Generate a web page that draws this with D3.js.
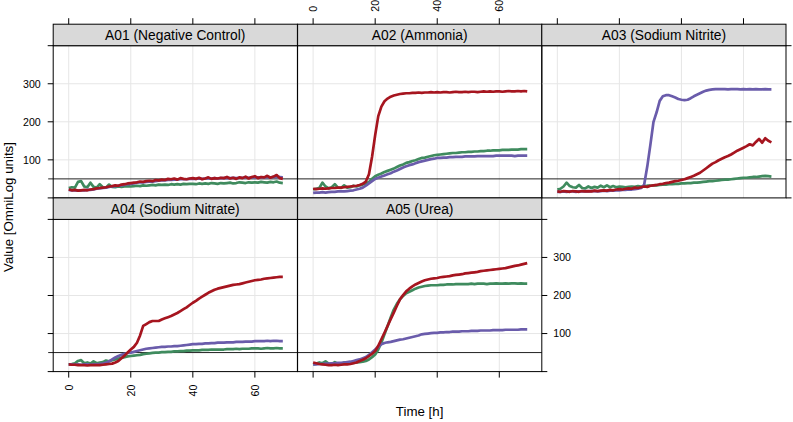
<!DOCTYPE html>
<html><head><meta charset="utf-8">
<script src="https://cdn.jsdelivr.net/npm/d3@7"></script>
<style>
html,body{margin:0;padding:0;background:#fff;}
svg{display:block;font-family:"Liberation Sans",Arial,Helvetica,sans-serif;}
</style></head>
<body><svg id="c" width="793" height="422"></svg>
<script>
// ---------- data ----------
const hours = [0,1,2,3,4,5,6,7,8,9,10,11,12,13,14,15,16,17,18,19,20,21,22,23,24,25,26,27,28,29,
  30,31,32,33,34,35,36,37,38,39,40,41,42,43,44,45,46,47,48,49,50,51,52,53,54,55,56,57,58,59,
  60,61,62,63,64,65,66,67,68,69];

const wells = ["A01 (Negative Control)","A02 (Ammonia)","A03 (Sodium Nitrite)","A04 (Sodium Nitrate)","A05 (Urea)"];
const seriesNames = ["green","purple","red"];
const seriesColors = ["#3f8b5e","#6a5cab","#a6151f"];

const greenValues = [
 [26,28,27,42,44,30,28,40,29,27, 36,28,27,35,29,28,30,29,30,31, 30,31,32,31,33,32,33,34,33,35, 34,35,34,36,35,36,35,37,36,37, 37,36,38,37,38,37,39,38,37,39, 38,39,40,38,39,41,40,39,41,40, 41,40,42,41,40,42,41,43,40,39],
 [22,24,26,40,30,25,28,36,27,26, 33,27,28,32,30,33,35,38,42,50, 57,61,64,68,71,74,77,81,85,88, 92,94,97,99,102,105,106,108,110,112, 113,114,115,116,117,118,118,119,120,120, 121,121,122,122,123,123,124,124,125,125, 125,126,126,126,127,127,127,128,128,128],
 [22,24,30,40,31,28,27,34,26,25, 30,26,29,27,32,28,33,28,31,28, 30,29,28,29,30,29,31,30,31,32, 32,33,33,34,35,35,36,36,37,37, 38,38,39,39,40,40,41,42,43,44, 44,45,46,47,48,48,49,50,51,52, 53,53,54,55,55,56,57,58,57,56],
 [19,20,22,28,30,22,24,21,27,22, 24,25,29,27,30,32,34,36,38,40, 41,42,43,44,46,47,48,49,50,50, 51,51,52,52,53,53,54,54,55,55, 56,56,56,57,57,57,58,58,58,58, 58,59,59,59,60,59,60,60,60,61, 61,61,60,61,62,61,61,62,61,61],
 [19,21,24,22,27,21,20,25,21,20, 24,21,22,23,24,25,26,28,32,38, 45,58,76,98,120,142,163,178,190,199, 206,210,214,218,221,223,225,226,227,227, 227,228,228,229,229,229,230,230,230,230, 230,231,230,231,231,231,230,231,231,232, 231,231,232,231,232,232,231,232,231,231]
];
const purpleValues = [
 [21,20,20,19,20,20,21,21,22,24, 25,26,27,29,30,31,32,33,35,36, 37,38,40,41,41,42,43,43,44,45, 46,46,47,47,48,48,49,49,49,50, 50,50,51,50,51,51,51,52,51,52, 52,52,52,53,52,53,53,53,53,54, 54,54,54,54,55,54,55,55,55,54],
 [13,14,14,15,14,15,16,16,17,17, 17,18,19,20,22,24,27,32,38,44, 50,53,56,59,62,65,69,72,76,80, 83,86,88,91,94,96,98,100,102,103, 105,105,106,106,107,107,108,108,108,109, 109,109,109,110,110,110,110,110,110,111, 111,111,111,111,111,110,111,111,111,111],
 [16,16,17,16,17,17,16,17,17,18, 17,18,18,17,18,19,18,19,19,20, 20,21,21,22,22,23,24,26,35,83, 140,200,225,255,267,270,270,267,264,260, 258,257,258,262,267,271,275,279,282,284, 285,286,286,286,286,285,286,286,286,285, 286,285,286,285,286,285,285,286,285,285],
 [19,19,18,19,18,19,19,18,19,19, 20,21,23,27,32,37,41,44,47,49, 50,52,54,56,58,60,61,62,63,64, 65,65,66,66,67,67,68,69,70,71, 72,72,73,73,74,74,75,75,76,76, 76,77,77,77,78,78,78,79,79,79, 80,80,80,80,81,80,81,81,80,80],
 [19,19,20,20,21,21,22,22,23,23, 24,25,26,28,30,32,35,38,44,51, 58,65,72,75,77,78,80,82,84,85, 87,89,91,93,95,98,99,100,101,102, 102,103,103,104,104,105,105,105,106,106, 106,107,107,107,108,108,108,108,109,109, 109,109,110,110,110,110,110,111,111,111]
];
const redValues = [
 [22,20,21,19,20,21,20,22,23,25, 26,27,28,30,31,33,32,35,36,38, 39,40,41,43,42,44,45,44,47,46, 48,47,50,49,51,48,52,50,49,51, 52,50,53,49,51,54,50,52,51,53, 52,55,51,53,50,54,52,56,51,55, 57,52,55,54,58,53,56,60,52,50],
 [24,23,24,25,24,25,26,26,27,27, 28,29,30,31,32,34,37,43,62,108, 165,215,240,254,261,266,269,271,273,274, 275,275,276,276,277,276,277,277,278,277, 278,277,278,278,277,278,279,278,278,279, 278,279,279,278,279,280,279,280,279,280, 280,279,280,281,280,280,281,280,281,280],
 [17,16,18,17,16,18,17,16,18,17, 18,17,19,18,19,20,19,21,20,22, 23,22,24,25,24,27,26,28,30,29, 32,33,34,36,37,39,40,42,44,45, 47,49,52,55,58,62,66,72,78,84, 90,94,99,103,107,110,114,119,124,128, 132,136,141,138,147,155,145,157,150,146],
 [19,18,18,17,17,17,16,17,17,17, 17,18,19,20,21,24,28,35,42,50, 58,65,76,95,120,125,130,133,133,133, 137,140,143,146,150,154,159,164,169,175, 181,186,192,197,202,207,211,215,218,220, 222,224,226,228,229,230,232,234,236,238, 240,241,242,244,245,246,247,248,249,249],
 [24,22,20,19,18,17,17,18,17,18, 19,19,20,22,24,28,31,35,41,47, 54,68,85,102,120,138,155,173,190,201, 211,218,224,229,233,237,240,242,244,245, 246,248,249,250,251,253,254,255,256,258, 259,260,261,262,264,265,266,267,268,269, 270,271,272,274,276,278,279,281,283,285]
];
const timeTicks = [0,20,40,60];
const valueTicks = [0,100,200,300,400];
const valueTickLabels = ["","100","200","300",""];
const referenceLevel = [50];
const xTitle = "Time [h]";
const yTitle = "Value [OmniLog units]";

// ---------- layout ----------
const svg = d3.select("#c");
const colX = [53.2, 297.6, 541.8];
const panelW = 244.2;
const rowTop = [24.2, 197.9];
const stripH = 21.5;
const panelH = 152.2;
const ncol = 3;

const x = d3.scaleLinear().domain([-5.0, 73.7]).range([0, panelW]);
const y = d3.scaleLinear().domain([0, 400]).range([panelH, 0]);

const tickFont = 10.6;
const axisCol = "#000";

wells.forEach((name, i) => {
  const col = i % ncol, row = Math.floor(i / ncol);
  const gx = colX[col], sy = rowTop[row], py = sy + stripH;
  const g = svg.append("g").attr("transform", `translate(${gx},${py})`);

  // grid
  g.append("g").selectAll("line").data(timeTicks).join("line")
    .attr("x1", d => x(d)).attr("x2", d => x(d)).attr("y1", 0).attr("y2", panelH)
    .attr("stroke", "#e6e6e6").attr("stroke-width", 1);
  g.append("g").selectAll("line").data(valueTicks.slice(1, 4)).join("line")
    .attr("x1", 0).attr("x2", panelW).attr("y1", d => y(d)).attr("y2", d => y(d))
    .attr("stroke", "#e6e6e6").attr("stroke-width", 1);

  // reference line
  g.append("line").attr("x1", col === 0 ? -5 : 0).attr("x2", panelW)
    .attr("y1", y(referenceLevel[0])).attr("y2", y(referenceLevel[0]))
    .attr("stroke", "#222").attr("stroke-width", 1);

  // curves
  const clipId = "clip" + i;
  g.append("clipPath").attr("id", clipId).append("rect").attr("width", panelW).attr("height", panelH);
  const line = d3.line().x((d, k) => x(hours[k])).y(d => y(d));
  const sets = [greenValues[i], purpleValues[i], redValues[i]];
  sets.forEach((vals, s) => {
    g.append("path").datum(vals).attr("d", line)
      .attr("fill", "none").attr("stroke", seriesColors[s]).attr("stroke-width", 2.7)
      .attr("stroke-linejoin", "round").attr("clip-path", `url(#${clipId})`);
  });

  // panel border
  g.append("rect").attr("width", panelW).attr("height", panelH)
    .attr("fill", "none").attr("stroke", axisCol).attr("stroke-width", 1);

  // strip
  const sg = svg.append("g").attr("transform", `translate(${gx},${sy})`);
  sg.append("rect").attr("width", panelW).attr("height", stripH)
    .attr("fill", "#d9d9d9").attr("stroke", axisCol).attr("stroke-width", 1);
  sg.append("text").attr("x", panelW / 2).attr("y", stripH / 2 + 5)
    .attr("text-anchor", "middle").attr("font-size", 13.8).attr("fill", "#000").text(name);

  // axes
  const isLastInRow = (col === ncol - 1) || (i === wells.length - 1);
  // top axis (row 0)
  if (row === 0) {
    const ax = svg.append("g").attr("transform", `translate(${gx},${sy})`);
    ax.selectAll("line").data(timeTicks).join("line")
      .attr("x1", d => x(d)).attr("x2", d => x(d)).attr("y1", 0).attr("y2", -6)
      .attr("stroke", axisCol);
    if (col === 1) {
      ax.selectAll("text").data(timeTicks).join("text")
        .attr("transform", d => `translate(${x(d) + 3.8},${-12.5}) rotate(-90)`)
        .attr("text-anchor", "start").attr("font-size", tickFont).attr("fill", "#000")
        .text(d => d);
    }
  }
  // bottom axis (row 1)
  if (row === 1) {
    const ax = svg.append("g").attr("transform", `translate(${gx},${py + panelH})`);
    ax.selectAll("line").data(timeTicks).join("line")
      .attr("x1", d => x(d)).attr("x2", d => x(d)).attr("y1", 0).attr("y2", 6)
      .attr("stroke", axisCol);
    if (col === 0) {
      ax.selectAll("text").data(timeTicks).join("text")
        .attr("transform", d => `translate(${x(d) + 3.8},${13}) rotate(-90)`)
        .attr("text-anchor", "end").attr("font-size", tickFont).attr("fill", "#000")
        .text(d => d);
    }
  }
  // left axis
  if (col === 0) {
    const ax = svg.append("g").attr("transform", `translate(${gx},${py})`);
    ax.selectAll("line").data(valueTicks).join("line")
      .attr("x1", 0).attr("x2", -5.5).attr("y1", d => y(d)).attr("y2", d => y(d))
      .attr("stroke", axisCol);
    if (row === 0) {
      ax.selectAll("text").data(valueTicks).join("text")
        .attr("x", -12.5).attr("y", d => y(d) + 3.8)
        .attr("text-anchor", "end").attr("font-size", tickFont).attr("fill", "#000")
        .text((d, k) => valueTickLabels[k]);
    }
  }
  // right axis
  if (isLastInRow) {
    const ax = svg.append("g").attr("transform", `translate(${gx + panelW},${py})`);
    ax.selectAll("line").data(valueTicks).join("line")
      .attr("x1", 0).attr("x2", 5.5).attr("y1", d => y(d)).attr("y2", d => y(d))
      .attr("stroke", axisCol);
    if (row === 1) {
      ax.selectAll("text").data(valueTicks).join("text")
        .attr("x", 11.5).attr("y", d => y(d) + 3.8)
        .attr("text-anchor", "start").attr("font-size", tickFont).attr("fill", "#000")
        .text((d, k) => valueTickLabels[k]);
    }
  }
});

// axis titles
svg.append("text").attr("x", (colX[0] + colX[2] + panelW) / 2).attr("y", 416)
  .attr("text-anchor", "middle").attr("font-size", 13.3).attr("fill", "#000").text(xTitle);
svg.append("text").attr("transform", "translate(12.5,207) rotate(-90)")
  .attr("text-anchor", "middle").attr("font-size", 13.3).attr("fill", "#000").text(yTitle);
</script></body></html>
